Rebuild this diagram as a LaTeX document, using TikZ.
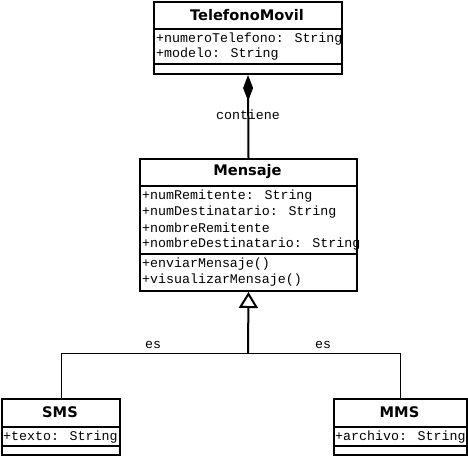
\documentclass[tikz,border=0pt]{standalone}
\usepackage{fontspec}
\newfontfamily\monof{Liberation Mono}
\newfontfamily\titlef{DejaVu Sans}
\usetikzlibrary{arrows.meta}
\begin{document}
\begin{tikzpicture}[x=1pt,y=-1pt,
  box/.style={draw, line width=2pt, anchor=north west, inner sep=0pt},
  sepline/.style={line width=1.6pt},
  ctitle/.style={font=\titlef\bfseries\fontsize{14.6}{16}\selectfont, inner sep=0pt},
  attr/.style={font=\monof\fontsize{13.3}{15}\selectfont, anchor=west, inner sep=0pt},
  lbl/.style={font=\monof\fontsize{13.3}{15}\selectfont, inner sep=0pt},
  comp/.style={line width=2pt, {Diamond[length=26pt,width=10pt]}-},
  gen/.style={line width=2pt, -{Triangle[open,length=16pt,width=19pt,fill=white]}},
  genline/.style={line width=1pt}]
\useasboundingbox (0,0) rectangle (468,456);

% TelefonoMovil
\node[box, minimum width=188pt, minimum height=72pt] (tm) at (153,1) {};
\draw[sepline] (tm.west |- 0,29) -- (tm.east |- 0,29);
\draw[sepline] (tm.west |- 0,64) -- (tm.east |- 0,64);
\node[ctitle] (tmT) at (247,15) {TelefonoMovil};
\node[attr] (tmA1) at (156,39) {+numeroTelefono: String};
\node[attr] (tmA2) at (156,54) {+modelo: String};

% Mensaje
\node[box, minimum width=217pt, minimum height=132pt] (msg) at (139,158) {};
\draw[sepline] (msg.west |- 0,186) -- (msg.east |- 0,186);
\draw[sepline] (msg.west |- 0,254) -- (msg.east |- 0,254);
\node[ctitle] (msgT) at (247.5,172) {Mensaje};
\node[attr] (msgA1) at (142,196) {+numRemitente: String};
\node[attr] (msgA2) at (142,212) {+numDestinatario: String};
\node[attr] (msgA3) at (142,228) {+nombreRemitente};
\node[attr] (msgA4) at (142,244) {+nombreDestinatario: String};
\node[attr] (msgM1) at (142,264) {+enviarMensaje()};
\node[attr] (msgM2) at (142,280) {+visualizarMensaje()};

% SMS
\node[box, minimum width=118pt, minimum height=56pt] (sms) at (1,398) {};
\draw[sepline] (sms.west |- 0,427) -- (sms.east |- 0,427);
\draw[sepline] (sms.west |- 0,446) -- (sms.east |- 0,446);
\node[ctitle] (smsT) at (60,412.5) {SMS};
\node[attr] (smsA1) at (3,437) {+texto: String};

% MMS
\node[box, minimum width=133pt, minimum height=56pt] (mms) at (333,398) {};
\draw[sepline] (mms.west |- 0,427) -- (mms.east |- 0,427);
\draw[sepline] (mms.west |- 0,446) -- (mms.east |- 0,446);
\node[ctitle] (mmsT) at (399.5,412.5) {MMS};
\node[attr] (mmsA1) at (335,437) {+archivo: String};

% composition
\draw[comp] (tm.south) -- (msg.north);
\node[lbl] (lcont) at (248,115) {contiene};

% generalization
\coordinate (j) at (248,353);
\draw[genline] (sms.north) |- (j);
\draw[genline] (mms.north) |- (j);
\draw[gen] (j) -- (msg.south);
\node[lbl] (les1) at (153,345) {es};
\node[lbl] (les2) at (323,345) {es};
\end{tikzpicture}
\end{document}
